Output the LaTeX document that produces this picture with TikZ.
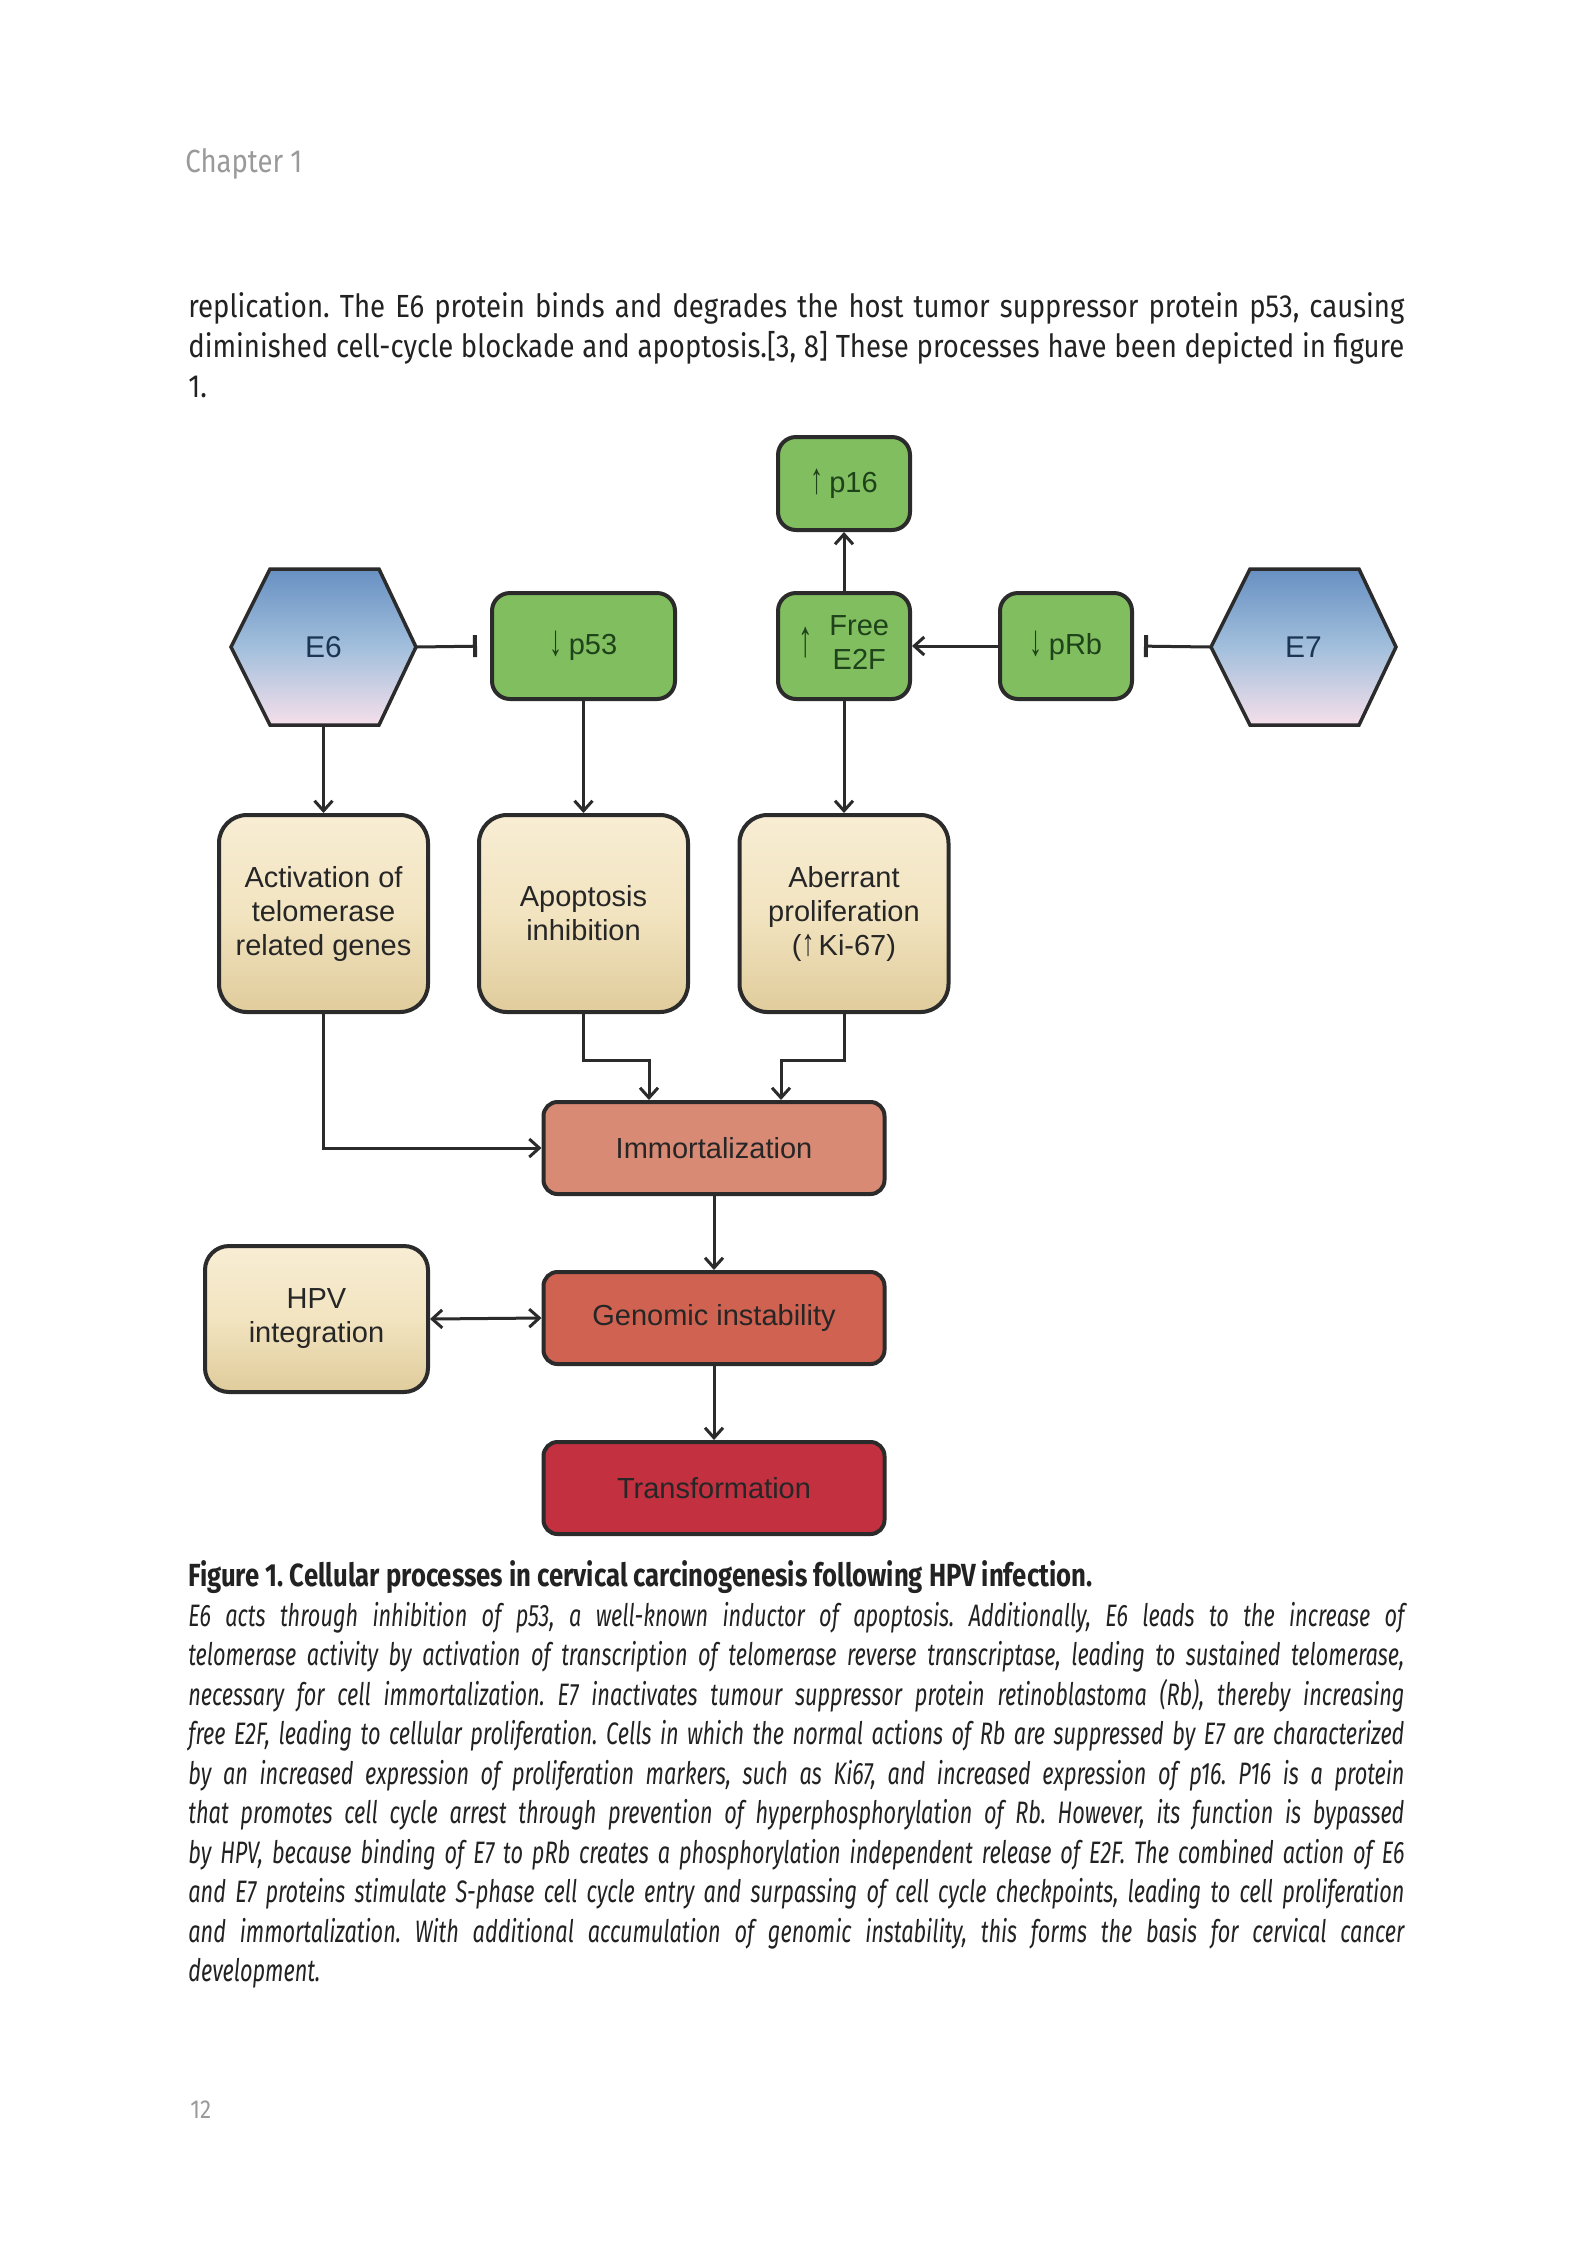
\documentclass[tikz,border=0pt]{standalone}
\usepackage{fontspec}
\usepackage{graphicx}
\setmainfont{Liberation Sans}
\newfontfamily\bodyfont[FakeStretch=0.86]{Fira Sans}
\newfontfamily\capfont[FakeStretch=0.7]{Fira Sans}
\newfontfamily\titlefont[FakeStretch=0.8]{Fira Sans}
\usetikzlibrary{arrows.meta,calc}
\frenchspacing
\definecolor{gfill}{HTML}{80BE60}
\definecolor{gtext}{HTML}{1E4219}
\definecolor{edge}{HTML}{2B2B2B}
\definecolor{beigeT}{HTML}{F8EDD4}
\definecolor{beigeM}{HTML}{F2E4C0}
\definecolor{beigeB}{HTML}{E0CC9C}
\definecolor{immC}{HTML}{D88A75}
\definecolor{genC}{HTML}{CF6250}
\definecolor{traC}{HTML}{C33040}
\definecolor{hexT}{HTML}{6790C2}
\definecolor{hexM}{HTML}{A2BFDC}
\definecolor{hexB}{HTML}{F5DFEA}
\definecolor{hexText}{HTML}{1B3553}
\definecolor{dtext}{HTML}{262626}
\definecolor{ink}{HTML}{222222}
\definecolor{lightink}{HTML}{9A9A9A}
\newlength\jlw
\newcommand\jline[2]{\settowidth\jlw{#2}\ifdim\jlw>#1\relax\resizebox{#1}{\height}{#2}\else\makebox[#1][s]{#2}\fi}
\newcommand\uparr{\raisebox{-0.05em}{\scalebox{0.9}[1.5]{↑}}}
\newcommand\dnarr{\raisebox{-0.05em}{\scalebox{0.9}[1.5]{↓}}}
\newcommand\smup{\scalebox{0.9}[1.3]{↑}}
\newcommand\bigup{\raisebox{-0.1em}{\scalebox{1}[1.8]{↑}}}
\tikzset{
  dfont/.style={font=\fontsize{14.5}{17}\selectfont},
  gbox/.style={draw=edge, line width=2pt, fill=gfill, rounded corners=9pt, text=gtext, align=center, inner sep=0pt, dfont},
  bbox/.style={draw=edge, line width=2pt, rounded corners=14pt, top color=beigeT, bottom color=beigeB, middle color=beigeM, text=dtext, align=center, inner sep=0pt, dfont},
  rbox/.style={draw=edge, line width=2pt, rounded corners=7pt, text=dtext, align=center, inner sep=0pt, minimum width=170.5pt, minimum height=46pt, dfont},
  hexnode/.style={minimum width=92.5pt, minimum height=78pt, inner sep=0pt, text=hexText, font=\fontsize{15}{17}\selectfont},
  hexshape/.style={draw=edge, line width=1.75pt, top color=hexT, bottom color=hexB, middle color=hexM},
  arr/.style={draw=edge, line width=1.5pt, -{Straight Barb[length=5pt,width=9pt,line width=1.5pt]}},
  darr/.style={draw=edge, line width=1.5pt, {Straight Barb[length=5pt,width=9pt,line width=1.5pt]}-{Straight Barb[length=5pt,width=9pt,line width=1.5pt]}},
  inhib/.style={draw=edge, line width=1.5pt, -{Bar[width=11pt,line width=2pt]}},
  bodytxt/.style={anchor=base west, inner sep=0pt, text=ink, font=\bodyfont\fontsize{16}{20}\selectfont},
  captxt/.style={anchor=base west, inner sep=0pt, text=ink, font=\capfont\itshape\fontsize{15.5}{20}\selectfont},
}
\begin{document}
\begin{tikzpicture}[x=0.5pt,y=-0.5pt]
\fill[white] (0,0) rectangle (1594,2250);
\useasboundingbox (0,0) rectangle (1594,2250);

% header and body text
\node[anchor=base west, inner sep=0pt, text=lightink, font=\bodyfont\fontsize{16}{20}\selectfont] (chap) at (185,172) {Chapter 1};
\node[bodytxt] (l1) at (188,317) {\jline{608pt}{replication. The E6 protein binds and degrades the host tumor suppressor protein p53, causing}};
\node[bodytxt] (l2) at (188,357) {\jline{608pt}{diminished cell-cycle blockade and apoptosis.[3, 8] These processes have been depicted in figure}};
\node[bodytxt] (l3) at (188,397) {1.};

% hexagons
\shade[hexshape] (231,647) -- (270,569) -- (379,569) -- (416,647) -- (379,725) -- (270,725) -- cycle;
\node[hexnode] (E6) at (323.5,647) {E6};
\shade[hexshape] (1211,647) -- (1250,569) -- (1359,569) -- (1396,647) -- (1359,725) -- (1250,725) -- cycle;
\node[hexnode] (E7) at (1303.5,647) {E7};

% green boxes
\node[gbox, minimum width=66pt, minimum height=46.5pt] (p16) at (844,483.5) {\uparr\hspace{3pt}p16};
\node[gbox, minimum width=91.5pt, minimum height=53pt] (p53) at (583.5,646) {\dnarr\hspace{3pt}p53};
\node[gbox, minimum width=66pt, minimum height=53pt] (E2F) at (844,646) {\bigup\hspace{8pt}\begin{tabular}{@{}c@{}}Free\\E2F\end{tabular}};
\node[gbox, minimum width=66pt, minimum height=53pt] (pRb) at (1066,646) {\dnarr\hspace{3pt}pRb};

% beige boxes
\node[bbox, minimum width=104.5pt, minimum height=98.5pt] (act) at (323.5,913.5) {Activation of\\telomerase\\related genes};
\node[bbox, minimum width=104.5pt, minimum height=98.5pt] (apo) at (583.5,913.5) {Apoptosis\\inhibition};
\node[bbox, minimum width=104.5pt, minimum height=98.5pt] (abe) at (844,913.5) {Aberrant\\proliferation\\(\smup\hspace{2pt}Ki-67)};
\node[bbox, minimum width=111.5pt, minimum height=73pt, rounded corners=12pt] (hpv) at (316.5,1319) {HPV\\integration};

% red boxes
\node[rbox, fill=immC] (imm) at (714,1148) {Immortalization};
\node[rbox, fill=genC] (gen) at (714,1318) {Genomic instability};
\node[rbox, fill=traC] (tra) at (714,1488) {Transformation};

% connectors
\draw[inhib, shorten >=6.5pt] (E6.east) -- (p53.west);
\draw[inhib, shorten >=5pt] (E7.west) -- (pRb.east);
\draw[arr] (pRb.west) -- (E2F.east);
\draw[arr] (E2F.north) -- (p16.south);
\draw[arr] (E6.south) -- (act.north);
\draw[arr] (p53.south) -- (apo.north);
\draw[arr] (E2F.south) -- (abe.north);
\draw[arr] (act.south) |- (imm.west);
\draw[arr] (apo.south) -- ++(0,46) -| ([xshift=-32.5pt]imm.north);
\draw[arr] (abe.south) -- ++(0,46) -| ([xshift=33.5pt]imm.north);
\draw[arr] (imm.south) -- (gen.north);
\draw[arr] (gen.south) -- (tra.north);
\draw[darr] (hpv.east) -- (gen.west);

% caption
\node[anchor=base west, inner sep=0pt, text=ink, font=\titlefont\bfseries\fontsize{16}{20}\selectfont] (cap) at (188,1586) {\resizebox{452pt}{\height}{Figure 1. Cellular processes in cervical carcinogenesis following HPV infection.}};
\node[captxt] (c1) at (188,1626) {\jline{608pt}{E6 acts through inhibition of p53, a well-known inductor of apoptosis. Additionally, E6 leads to the increase of}};
\node[captxt] (c2) at (188,1665.5) {\jline{608pt}{telomerase activity by activation of transcription of telomerase reverse transcriptase, leading to sustained telomerase,}};
\node[captxt] (c3) at (188,1705) {\jline{608pt}{necessary for cell immortalization. E7 inactivates tumour suppressor protein retinoblastoma (Rb), thereby increasing}};
\node[captxt] (c4) at (188,1744.5) {\jline{608pt}{free E2F, leading to cellular proliferation. Cells in which the normal actions of Rb are suppressed by E7 are characterized}};
\node[captxt] (c5) at (188,1784) {\jline{608pt}{by an increased expression of proliferation markers, such as Ki67, and increased expression of p16. P16 is a protein}};
\node[captxt] (c6) at (188,1823.5) {\jline{608pt}{that promotes cell cycle arrest through prevention of hyperphosphorylation of Rb. However, its function is bypassed}};
\node[captxt] (c7) at (188,1863) {\jline{608pt}{by HPV, because binding of E7 to pRb creates a phosphorylation independent release of E2F. The combined action of E6}};
\node[captxt] (c8) at (188,1902.5) {\jline{608pt}{and E7 proteins stimulate S-phase cell cycle entry and surpassing of cell cycle checkpoints, leading to cell proliferation}};
\node[captxt] (c9) at (188,1942) {\jline{608pt}{and immortalization. With additional accumulation of genomic instability, this forms the basis for cervical cancer}};
\node[captxt] (c10) at (188,1981.5) {development.};

% page number
\node[anchor=base west, inner sep=0pt, text=lightink, font=\bodyfont\fontsize{13}{16}\selectfont] (pg) at (190,2118) {12};
\end{tikzpicture}
\end{document}
